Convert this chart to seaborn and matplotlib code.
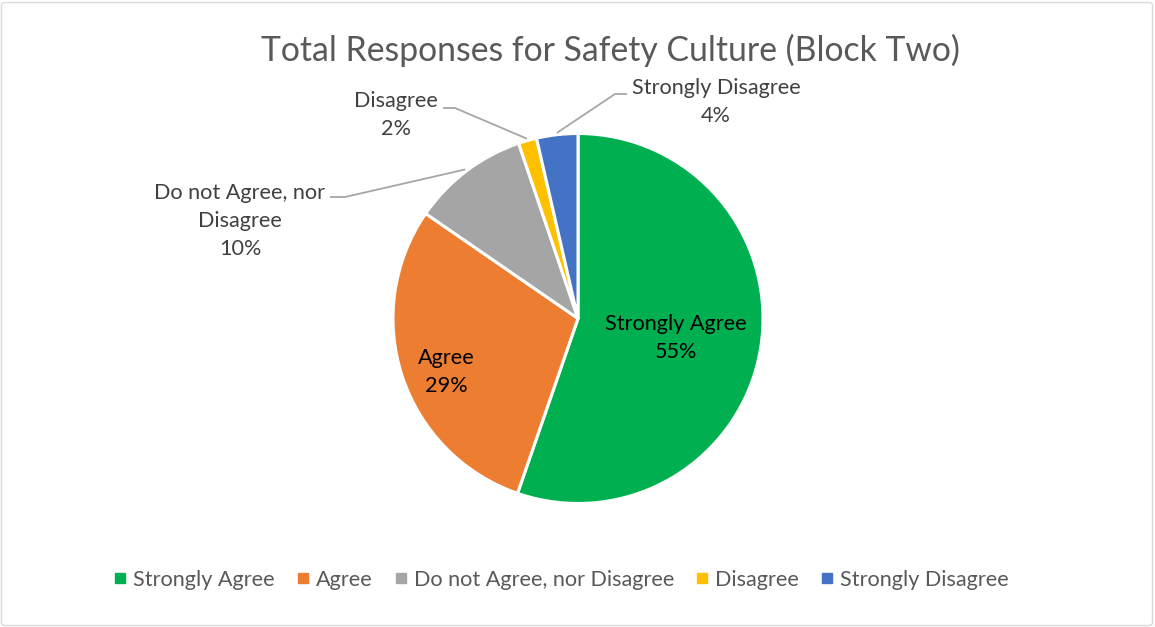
import matplotlib
matplotlib.use("Agg")
import matplotlib.pyplot as plt
import seaborn as sns
import numpy as np
from matplotlib.patches import FancyBboxPatch
from matplotlib.lines import Line2D

categories = ["Strongly Agree", "Agree", "Do not Agree, nor Disagree", "Disagree", "Strongly Disagree"]
values = [55.3, 29.3, 10.2, 1.6, 3.6]
label_names = ["Strongly Agree", "Agree", "Do not Agree, nor\nDisagree", "Disagree", "Strongly Disagree"]
colors = ["#00B050", "#ED7D31", "#A5A5A5", "#FFC000", "#4472C4"]
title = "Total Responses for Safety Culture (Block Two)"

sns.set_theme(style="white")
plt.rcParams["font.family"] = ["Lato", "DejaVu Sans"]

W, H = 1155, 627
fig = plt.figure(figsize=(W / 100, H / 100), dpi=100)
fig.patch.set_facecolor("white")

CX, CY, R = 578.0, 318.5, 185.0
ax = fig.add_axes([0, 0, 1, 1])
ax.set_aspect("equal")
ax.axis("off")

def px(x, y):
    return ((x - CX) / R, (CY - y) / R)

wedges, _ = ax.pie(values, colors=colors, startangle=90, counterclock=False,
                   radius=1.0, center=(0, 0), frame=False,
                   wedgeprops=dict(edgecolor="white", linewidth=2.2))
ax.set_xlim((0 - CX) / R, (W - CX) / R)
ax.set_ylim((CY - H) / R, CY / R)

total = sum(values)
pcts = [f"{round(v / total * 100):.0f}%" for v in values]

fs = 15.6
ls = 1.5
# inside labels
inside = {0: (676, 338), 1: (446, 372)}
for i, (x, y) in inside.items():
    ax.text(*px(x, y), f"{label_names[i]}\n{pcts[i]}", ha="center", va="center",
            fontsize=fs, color="black", linespacing=ls)

# outside labels with leader lines
outside = {
    2: dict(text=(240, 221), elbow=(345, 197), end=(330, 197)),
    3: dict(text=(396, 115), elbow=(455, 108), end=(443, 108)),
    4: dict(text=(716, 102), elbow=(615, 94), end=(627, 94)),
}
for i, d in outside.items():
    w = wedges[i]
    mid = np.deg2rad((w.theta1 + w.theta2) / 2)
    p0 = (1.01 * np.cos(mid), 1.01 * np.sin(mid))
    e = px(*d["elbow"])
    t = px(*d["end"])
    ax.plot([p0[0], e[0], t[0]], [p0[1], e[1], t[1]], color="#A6A6A6", lw=1.3,
            solid_capstyle="butt")
    ax.text(*px(*d["text"]), f"{label_names[i]}\n{pcts[i]}", ha="center", va="center",
            fontsize=fs, color="#404040", linespacing=ls)

fig.text(610 / W, 1 - 50 / H, title, ha="center", va="center", fontsize=24.3,
         color="#595959")

handles = [Line2D([0], [0], marker="s", linestyle="none", markersize=6.5,
                  markerfacecolor=c, markeredgecolor=c) for c in colors]
leg = fig.legend(handles, categories, loc="center", bbox_to_anchor=(562 / W, 1 - 580 / H),
                 ncol=5, frameon=False, fontsize=fs, handlelength=0.5,
                 handletextpad=0.35, columnspacing=1.05)
for t in leg.get_texts():
    t.set_color("#595959")

border = FancyBboxPatch((1.5 / W, 1.5 / H), (W - 4) / W, (H - 4) / H,
                        boxstyle="round,pad=0,rounding_size=0.004",
                        transform=fig.transFigure, facecolor="none",
                        edgecolor="#D9D9D9", lw=1.0)
fig.patches.append(border)

fig.savefig("out.png", dpi=100, facecolor="white")
